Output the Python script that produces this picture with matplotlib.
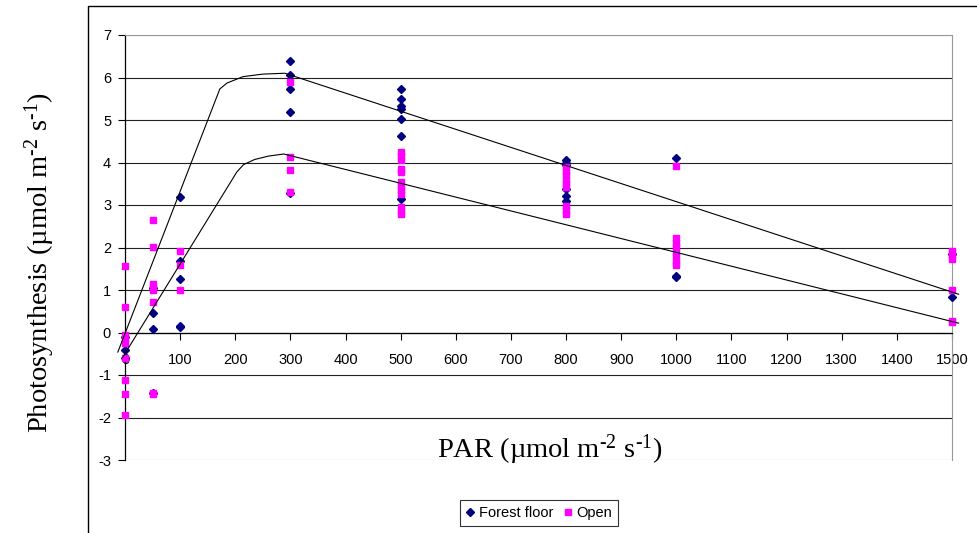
import matplotlib
matplotlib.use('Agg')
import matplotlib.pyplot as plt
from matplotlib.patches import Rectangle
import numpy as np

plt.rcParams['font.family'] = 'Liberation Sans'
plt.rcParams['axes.unicode_minus'] = False
plt.rcParams['mathtext.fontset'] = 'custom'
plt.rcParams['mathtext.rm'] = 'Liberation Serif'
plt.rcParams['mathtext.it'] = 'Liberation Serif:italic'

# measured points, PAR level and photosynthesis
forest_par = [0, 0, 0,
              50, 50, 50, 50,
              100, 100, 100, 100, 100,
              300, 300, 300, 300, 300,
              500, 500, 500, 500, 500, 500, 500,
              800, 800, 800, 800, 800, 800,
              1000, 1000, 1000,
              1500, 1500]
forest_ps = [-0.1, -0.4, -0.6,
             1.05, 0.45, 0.08, -1.42,
             3.18, 1.68, 1.25, 0.16, 0.13,
             6.4, 6.07, 5.73, 5.2, 3.28,
             5.73, 5.49, 5.33, 5.25, 5.03, 4.62, 3.13,
             4.05, 4.0, 3.95, 3.38, 3.22, 3.1,
             4.1, 1.33, 1.3,
             1.85, 0.83]

open_par = [0, 0, 0, 0, 0, 0, 0, 0, 0,
            50, 50, 50, 50, 50, 50, 50, 50,
            100, 100, 100,
            300, 300, 300, 300,
            500, 500, 500, 500, 500, 500, 500, 500, 500, 500, 500, 500,
            800, 800, 800, 800, 800, 800, 800, 800, 800,
            1000, 1000, 1000, 1000, 1000, 1000, 1000, 1000,
            1500, 1500, 1500, 1500, 1500, 1500]
open_ps = [1.57, 0.61, -0.06, -0.15, -0.25, -0.6, -1.12, -1.45, -1.95,
           2.64, 2.02, 1.14, 1.06, 1.0, 0.71, -1.42, -1.45,
           1.92, 1.6, 1.0,
           5.9, 4.12, 3.82, 3.31,
           4.25, 4.15, 4.05, 3.85, 3.78, 3.55, 3.45, 3.35, 3.25, 2.95, 2.85, 2.78,
           3.9, 3.8, 3.7, 3.6, 3.5, 3.42, 2.98, 2.88, 2.8,
           3.92, 2.22, 2.1, 2.02, 1.9, 1.8, 1.65, 1.58,
           1.92, 1.82, 1.72, 1.0, 0.28, 0.24]

# hand drawn response curves
forest_line_x = [-13, 172, 185, 214, 250, 290, 1512]
forest_line_y = [-0.46, 5.73, 5.87, 6.02, 6.08, 6.1, 0.9]
open_line_x = [-4, 203, 215, 235, 260, 288, 1512]
open_line_y = [-0.58, 3.78, 3.95, 4.07, 4.15, 4.2, 0.22]

x_ticks = list(range(0, 1501, 100))
y_ticks = list(range(-3, 8))

unit = '(µmol m$^{\\text{-2}}$ s$^{\\text{-1}}$)'

fig = plt.figure(figsize=(9.77, 5.33), dpi=100)
ax = fig.add_axes([125 / 977, 1 - 460 / 533, 827 / 977, 425 / 533])

ax.plot(forest_par, forest_ps, linestyle='none', marker='D', ms=4.2,
        color='#000080', mec='#000080', clip_on=False, zorder=3, label='Forest floor')
ax.plot(open_par, open_ps, linestyle='none', marker='s', ms=5,
        color='#FF00FF', mec='#FF00FF', clip_on=False, zorder=4, label='Open')

ax.plot(forest_line_x, forest_line_y, color='black', lw=0.8, clip_on=False, zorder=5)
ax.plot(open_line_x, open_line_y, color='black', lw=0.8, clip_on=False, zorder=5)

ax.set_xlim(0, 1500)
ax.set_ylim(-3, 7)
ax.set_xticks(x_ticks)
ax.set_yticks(y_ticks)
ax.tick_params(axis='both', direction='out', length=5, width=0.8, labelsize=10.5, colors='black')
ax.tick_params(axis='x', pad=10)
ax.tick_params(axis='y', pad=5)

ax.spines['bottom'].set_position(('data', 0))
ax.spines['bottom'].set_linewidth(0.9)
ax.spines['left'].set_linewidth(0.9)
ax.spines['top'].set_color('#999999')
ax.spines['right'].set_color('#999999')

ax.yaxis.grid(True, color='#222222', lw=0.8)
ax.set_axisbelow(True)
gl = ax.get_ygridlines()
gl[0].set_color('#999999')
gl[-1].set_color('#999999')

fig.text(550 / 977, 1 - 458 / 533, 'PAR ' + unit, family='Liberation Serif',
         fontsize=20.5, ha='center', va='baseline')
fig.text(40 / 977, 1 - 262 / 533, 'Photosynthesis ' + unit, family='Liberation Serif',
         fontsize=20.5, ha='center', va='center', rotation=90)

leg = fig.legend(loc='center', bbox_to_anchor=(539 / 977, 1 - 513 / 533), ncol=2,
                 fontsize=10.5, frameon=True, fancybox=False, handlelength=0.6,
                 handletextpad=0.3, columnspacing=0.7, borderpad=0.4)
leg.get_frame().set_edgecolor('black')
leg.get_frame().set_linewidth(0.8)

fig.add_artist(Rectangle((88 / 977, -0.1), 1.0, 1.1 - 6 / 533, transform=fig.transFigure,
                         fill=False, edgecolor='black', lw=1.0))

plt.savefig('out.png', dpi=100)
